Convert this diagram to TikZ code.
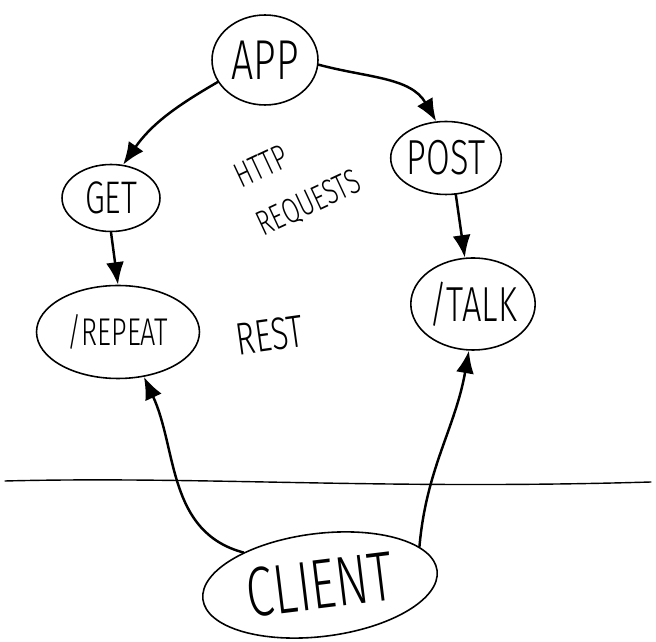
\documentclass[tikz,border=0pt]{standalone}
\usepackage{fontspec}
\setmainfont{Fira Sans Light}
\usepackage{tikz}
\usetikzlibrary{shapes}
\usetikzlibrary{positioning}
\usetikzlibrary{arrows.meta}
\newcommand{\hw}[1]{\scalebox{0.7}[1]{#1}}

\begin{document}
\begin{tikzpicture}[x=0.02cm, y=0.02cm, line cap=round, line join=round]
	
	%Pfeilspitzen
	\tikzset{>={Latex[length=4.5mm,width=3.6mm]}}
	\tikzset{blase/.style={ellipse, draw, line width=0.9pt, inner sep=0pt}}
	\tikzset{pfeil/.style={->, line width=1.4pt}}
	
	\useasboundingbox (0,0) rectangle (656,642);
	
	% Knoten
	\node[blase, minimum width=2.12cm, minimum height=1.8cm, font=\fontsize{32}{34}\selectfont] (app) at (265,582) {\hw{APP}};
	\node[blase, minimum width=1.96cm, minimum height=1.34cm, font=\fontsize{26}{28}\selectfont] (get) at (111,444) {\hw{GET}};
	\node[blase, minimum width=2.16cm, minimum height=1.46cm, font=\fontsize{28}{30}\selectfont] (post) at (446,484) {\hw{POST}};
	\node[blase, minimum width=3.26cm, minimum height=1.86cm, font=\fontsize{22}{24}\selectfont] (repeat) at (118,310) {\hw{/REPEAT}};
	\node[blase, minimum width=2.42cm, minimum height=1.84cm, font=\fontsize{28}{30}\selectfont] (talk) at (473,338) {\hw{/TALK}};
	\node[blase, minimum width=4.72cm, minimum height=2.06cm, rotate=7, font=\fontsize{40}{42}\selectfont] (client) at (320,57) {\hw{CLIENT}};
	
	% Beschriftungen
	\node[rotate=25, align=left, font=\fontsize{20}{30}\selectfont] (http) at (298,462) {\hw{HTTP}\\\hw{REQUESTS}};
	\node[rotate=8, font=\fontsize{26}{28}\selectfont] (rest) at (270,307) {\hw{REST}};
	
	% Trennlinie
	\draw[line width=0.8pt] (5,161) .. controls (200,166) and (380,152) .. (651,160);
	
	% Pfeile
	\draw[pfeil] (app.205) to[out=210,in=55] (get.70);
	\draw[pfeil] (app.-5) to[out=-15,in=120] (post.105);
	\draw[pfeil] (get.south) -- (repeat.north);
	\draw[pfeil] (post.-75) -- (talk.100);
	\draw[pfeil] (client.150) to[out=165,in=-65] (repeat.-60);
	\draw[pfeil] (client.14) to[out=85,in=-100] (talk.-95);
	
\end{tikzpicture}
\end{document}
